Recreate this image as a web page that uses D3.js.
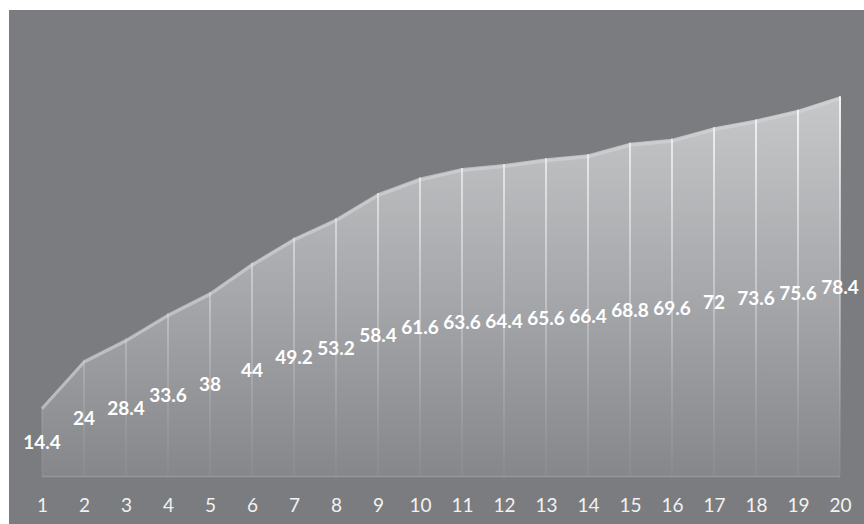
<!DOCTYPE html>
<html><head><meta charset="utf-8">
<script src="https://cdn.jsdelivr.net/npm/d3@7"></script>
<style>html,body{margin:0;padding:0;background:#fff;}svg{display:block;}</style>
</head><body>
<svg id="chart" width="864" height="524"></svg>
<script>
const categories = ["1","2","3","4","5","6","7","8","9","10","11","12","13","14","15","16","17","18","19","20"];
const values = [14.4,24,28.4,33.6,38,44,49.2,53.2,58.4,61.6,63.6,64.4,65.6,66.4,68.8,69.6,72,73.6,75.6,78.4];

const svg = d3.select("#chart");
const W = 864, H = 524;
svg.append("rect").attr("x",9).attr("y",10).attr("width",W-9).attr("height",H-10).attr("fill","#7b7c80");

const x = d3.scalePoint().domain(categories).range([42,840]);
const y = d3.scaleLinear().domain([0,90]).range([476,40]);

const defs = svg.append("defs");
const g1 = defs.append("linearGradient").attr("id","areaGrad").attr("gradientUnits","userSpaceOnUse")
  .attr("x1",0).attr("y1",y(80)).attr("x2",0).attr("y2",y(0));
g1.append("stop").attr("offset","0%").attr("stop-color","#c8c9cb");
g1.append("stop").attr("offset","55%").attr("stop-color","#a5a6a9");
g1.append("stop").attr("offset","100%").attr("stop-color","#86878b");
const g2 = defs.append("linearGradient").attr("id","lineGrad").attr("gradientUnits","userSpaceOnUse")
  .attr("x1",0).attr("y1",y(80)).attr("x2",0).attr("y2",y(0));
g2.append("stop").attr("offset","0%").attr("stop-color","#f6f6f6").attr("stop-opacity",1);
g2.append("stop").attr("offset","60%").attr("stop-color","#dcdcdc").attr("stop-opacity",0.45);
g2.append("stop").attr("offset","100%").attr("stop-color","#a0a0a0").attr("stop-opacity",0.15);

const data = categories.map((c,i)=>({c, v: values[i]}));

const area = d3.area().x(d=>x(d.c)).y0(y(0)).y1(d=>y(d.v));
svg.append("path").datum(data).attr("d",area).attr("fill","url(#areaGrad)");

// subtle highlight band along top edge
const line = d3.line().x(d=>x(d.c)).y(d=>y(d.v)+2.5);
svg.append("path").datum(data).attr("d",line).attr("fill","none")
  .attr("stroke","#d4d5d7").attr("stroke-width",3).attr("opacity",0.6);

// vertical lines
svg.selectAll("line.v").data(data).enter().append("line")
  .attr("x1",d=>x(d.c)).attr("x2",d=>x(d.c))
  .attr("y1",d=>y(d.v)).attr("y2",y(0))
  .attr("stroke","url(#lineGrad)").attr("stroke-width",2);

// baseline
svg.append("line").attr("x1",x("1")).attr("x2",x("20")).attr("y1",y(0)+0.5).attr("y2",y(0)+0.5)
  .attr("stroke","#96979b").attr("stroke-width",1.5);

// x axis labels
const xAxis = d3.axisBottom(x).tickSize(0).tickPadding(0);
const ax = svg.append("g").attr("transform",`translate(0,${y(0)})`).call(xAxis);
ax.select(".domain").remove();
ax.selectAll("text").attr("y",36).attr("dy",0).attr("fill","#f2f2f2")
  .style("font-family","Lato, 'Open Sans', sans-serif").style("font-size","19px");

// data labels
svg.selectAll("text.lbl").data(data).enter().append("text")
  .attr("class","lbl")
  .attr("x",d=>x(d.c)).attr("y",d=>y(d.v/2)+7.5)
  .attr("text-anchor","middle").attr("fill","#ffffff")
  .style("font-family","Lato, 'Open Sans', sans-serif").style("font-weight","bold").style("font-size","19px")
  .text(d=>d.v);
</script>
</body></html>
